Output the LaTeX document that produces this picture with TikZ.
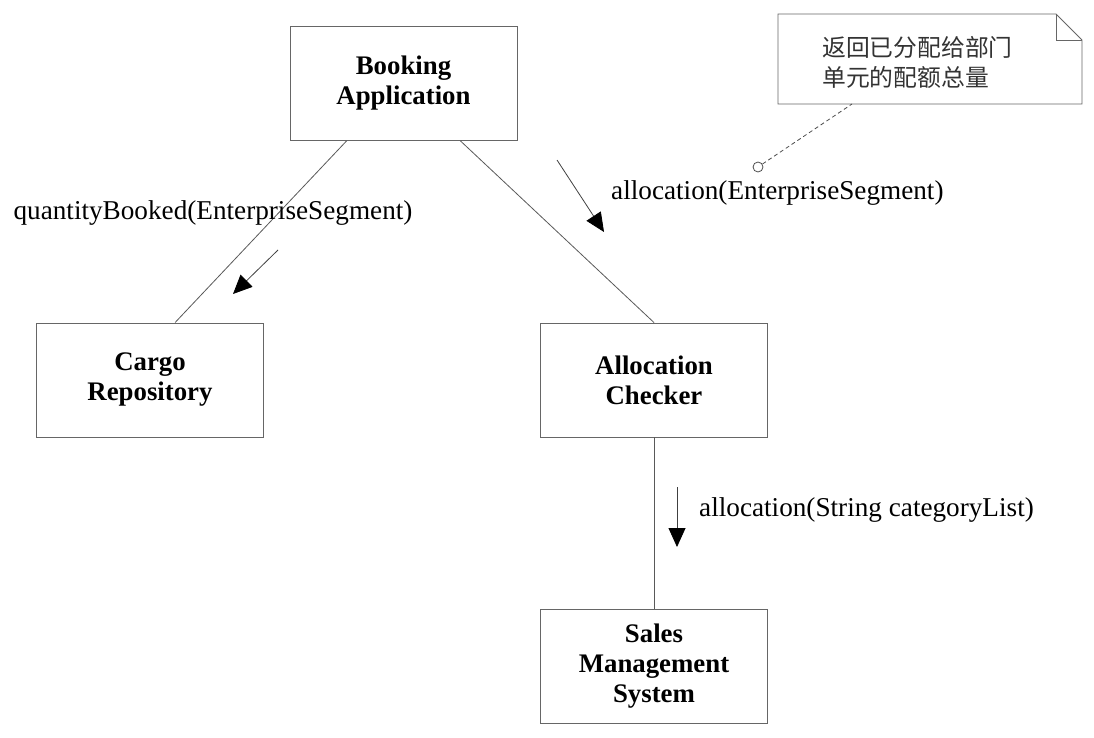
\documentclass[tikz,border=0pt]{standalone}
\usepackage{fontspec}
\setmainfont{Liberation Serif}
\newfontfamily\cjk{Noto Sans CJK SC}
\usetikzlibrary{arrows.meta,calc}
\begin{document}
\begin{tikzpicture}[x=1pt,y=-1pt,
  box/.style={draw=black!60,line width=0.9pt,minimum width=227pt,minimum height=114pt,inner sep=0pt,align=center,font=\fontsize{26.8}{30}\selectfont\bfseries},
  link/.style={draw=black!65,line width=0.8pt},
  msg/.style={draw=black!75,line width=0.8pt,-{Triangle[length=19pt,width=17pt,color=black]}},
  lbl/.style={font=\fontsize{27.2}{30}\selectfont,inner sep=0pt}]
\useasboundingbox (0,0) rectangle (1094,738);
\node[box] (ba) at (403.5,83.5) {Booking\\Application};
\node[box] (cr) at (150,380) {Cargo\\Repository};
\node[box] (ac) at (654,380) {Allocation\\Checker};
\node[box] (sm) at (654,666.5) {Sales\\Management\\System};
% note
\draw[draw=black!60,line width=0.9pt,fill=white] (778,14) -- (1056,14) -- (1082,40) -- (1082,104) -- (778,104) -- cycle;
\draw[draw=black!60,line width=0.9pt] (1056,14) -- (1056,40) -- (1082,40);
\node[font=\cjk\fontsize{23.8}{30}\selectfont,align=left,text=black!80,anchor=west,inner sep=0pt] (note) at (822,62) {返回已分配给部门\\单元的配额总量};
% links
\draw[link] ($(ba.south west)!0.25!(ba.south east)$) -- ($(cr.north west)!0.61!(cr.north east)$);
\draw[link] ($(ba.south west)!0.75!(ba.south east)$) -- (ac.north);
\draw[link] (ac.south) -- (sm.north);
% note anchor
\coordinate (nb) at (852,104);
\node[circle,draw=black!70,line width=0.8pt,minimum size=10pt,inner sep=0pt] (oc) at (758,167) {};
\draw[draw=black!70,line width=0.8pt,dash pattern=on 4pt off 3pt] (oc) -- (nb);
% messages
\coordinate (m1s) at (278,250); \coordinate (m1e) at (233,294);
\draw[msg] (m1s) -- (m1e);
\coordinate (m2s) at (557,160); \coordinate (m2e) at (604,232);
\draw[msg] (m2s) -- (m2e);
\coordinate (m3s) at (677,487); \coordinate (m3e) at (677,547);
\draw[msg] (m3s) -- (m3e);
\node[lbl] (l1) at (213,213) {quantityBooked(EnterpriseSegment)};
\node[lbl,anchor=west] (l2) at (611,193) {allocation(EnterpriseSegment)};
\node[lbl,anchor=west] (l3) at (699,510) {allocation(String categoryList)};
\end{tikzpicture}
\end{document}
